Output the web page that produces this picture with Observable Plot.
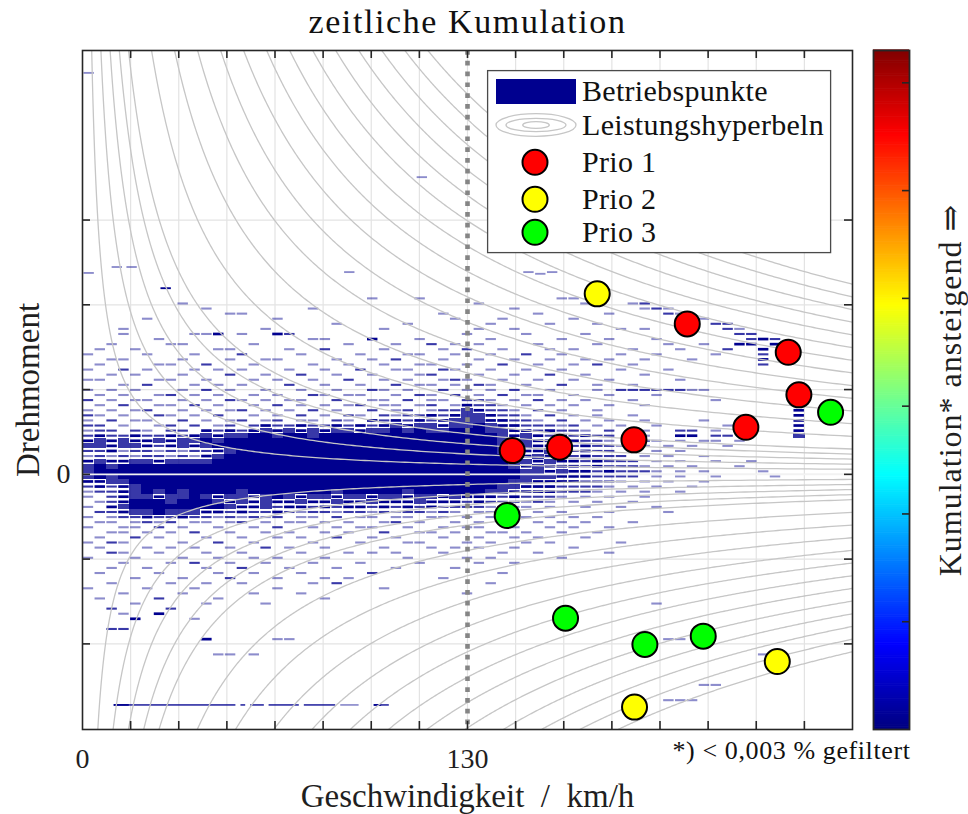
<!DOCTYPE html>
<html lang="de">
<head>
<meta charset="utf-8">
<title>zeitliche Kumulation</title>
<script src="https://cdn.jsdelivr.net/npm/d3@7"></script>
<script src="https://cdn.jsdelivr.net/npm/@observablehq/plot@0.6"></script>
<style>
html,body{margin:0;padding:0;background:#fff;}
#wrap{position:relative;width:968px;height:814px;overflow:hidden;font-family:"Liberation Serif","DejaVu Serif",serif;}
#wrap svg{position:absolute;}
#wrap svg text{font-family:"Liberation Serif","DejaVu Serif",serif;}
</style>
</head>
<body>
<div id="wrap"></div>
<script>
// ---------------- texts ----------------
const titleText = "zeitliche Kumulation";
const xLabel = "Geschwindigkeit  /  km/h";
const yLabel = "Drehmoment";
const captionText = "*) < 0,003 % gefiltert";
const colorbarLabel = "Kumulation* ansteigend \u21D2";
const legendLabels = ["Betriebspunkte", "Leistungshyperbeln", "Prio 1", "Prio 2", "Prio 3"];

// ---------------- axes ----------------
const xDomain = [0, 260];
const yDomain = [-301, 500];
const xTicks = [16.25, 32.5, 48.75, 65, 81.25, 97.5, 113.75, 130, 146.25, 162.5, 178.75, 195, 211.25, 227.5, 243.75];
const yTicks = [-200, -100, 0, 100, 200, 300];
const xTickLabels = [{v: 0, t: "0"}, {v: 130, t: "130"}];
const yTickLabels = [{v: 0, t: "0"}];
const limitSpeed = [130];

// ---------------- power hyperbolas (levels in units of powerUnit) ----------------
const powerUnit = 1555;
const posLevels = [1, 2, 3, 4, 5, 7.5, 10, 12.5, 15, 17.5, 20, 22.5, 25, 27.5, 30, 32.5, 35, 37.5];
const negLevels = [1, 2, 3, 4, 5, 7.5, 10, 12.5, 15, 17.5, 20, 22.5, 25, 27.5, 30, 32.5, 35];

// ---------------- priority points [speed, torque] ----------------
const prio1 = [[145.1, 28], [161.1, 32], [186.2, 40.7], [204.2, 177.5], [238.3, 144], [241.9, 93.8], [224, 55.5]];
const prio2 = [[173.8, 212.9], [234.6, -220.8], [186.4, -274.6]];
const prio3 = [[252.6, 73.2], [143.4, -48.6], [163.1, -169.7], [189.9, -200.7], [209.6, -190.9]];
const prioColors = ["#ff0000", "#ffff00", "#00ff00"];

// ---------------- operating points (binned: 4 km/h x 6 units) ----------------
// each row: [upper torque edge of bin, "column runs : level"], column c covers speed 4c..4c+4
const binW = 4, binH = 6;
const heatRows = [
[210,"24:1,28:1,40:1,41:1"],
[204,"8:1,33:1,42:1,46:1,47:2"],
[198,"10:1,19:1,36:1,47:1,48:2,49:1"],
[192,"12:1,13:1,30:1,38:1,44:1,49:2,50:1"],
[186,"5:1,16:1,31:1,35:1,41:1,51:2,52:1"],
[180,"21:1,27:1,34:1,39:1,43:1,53:2,54:2"],
[174,"3:1,15:1,25:1,33:1,36:1,45:1,47:1,54:2,55:1"],
[168,"3:1,9:1,10:1,11:3,13:1,16:3,17:2,32:1,37:1,42:1,55:2,56:2"],
[162,"6:1,19:1,20:1,24:3,28:1,34:1,40:1,44:1,48:1,56:2,57:3,58:2"],
[156,"2:1,7:1,8:1,14:1,22:1,26:1,29:2,31:1,33:1,38:1,43:1,49:1,52:1,55:3,56:3,58:3"],
[150,"1:1,4:1,11:1,12:1,17:1,20:2,25:1,30:1,32:2,35:1,39:1,41:1,46:1,50:1,54:2,57:3"],
[144,"0:1,5:1,9:1,13:2,18:1,23:1,27:1,28:1,31:1,34:1,37:2,40:1,45:1,48:1,53:1,57:2"],
[138,"2:1,3:1,8:1,12:1,15:1,16:1,21:1,24:1,26:2,30:1,33:1,36:1,39:1,42:1,44:1,47:1,51:1,57:3"],
[132,"1:1,6:1,7:1,10:2,14:1,19:1,22:1,25:1,28:1,29:1,32:1,35:2,38:1,41:1,43:2,46:1,57:2"],
[126,"0:1,3:2,5:1,9:1,11:1,13:1,17:1,20:1,23:2,26:1,27:1,30:2,31:1,34:1,37:1,40:1,45:1,49:1"],
[120,"2:1,4:1,8:1,12:2,15:1,18:2,21:1,24:1,28:1,29:2,33:1,36:1,39:2,42:1,47:1"],
[114,"0:1,1:1,6:1,7:1,10:1,14:1,16:1,19:1,22:2,25:1,27:1,30:1,31:2,32:1,35:1,38:1,41:1,44:1,50:1"],
[108,"3:1,5:2,9:1,11:1,13:1,17:2,20:1,23:1,26:2,28:1,29:1,31:1,33:2,34:1,37:1,40:2,43:1,46:1"],
[102,"0:1,2:1,4:1,8:1,10:2,12:1,15:1,18:1,21:1,24:2,25:1,27:1,30:2,32:1,34:1,36:2,39:1,43:1,45-50:2,51:1,52:1"],
[96,"1:1,3:1,6:1,7:2,9:1,11:1,14:1,16:1,19:2,20:1,22:1,23:1,26:1,28:2,29:1,31:2,33:1,35:2,37:1,38:1,41:1,44:1,48:1"],
[90,"0:2,2:1,4:1,5:1,8:1,10:1,12:2,13:1,15:1,17:1,18:1,21:2,24:1,25:1,27:2,29:1,30:1,32:2,33:2,34:1,36:1,38:2,40:1,42:1,46:1,53:1"],
[84,"1:1,3:2,6:1,7:1,9:2,11:1,14:1,16:2,18:1,20:1,22:1,23:2,25:1,26:1,28:1,29:2,31:1,32:3,33:2,34:2,35:1,37:1,39:1,41:1,44:1,47:1"],
[78,"0:1,2:1,4:1,5:2,8:1,10:1,12:1,13:2,15:1,17:1,19:2,21:1,24:2,26:1,27:2,29:1,30:2,31:2,32:4,33:3,34:2,35:2,36:1,38:2,40:1,43:1,60:3"],
[72,"0:2,1:1,3:1,6:2,7:1,9:1,11:2,14:1,16:1,18:2,20:1,22:2,23:1,25:2,26:1,27:2,28:2,29:3,30:2,31:3,32:4,33:4,34:3,35:2,36:2,37:1,39:2,41:1,43:1,46:1,60:3"],
[66,"0:1,2:2,4:1,5:1,8:2,10:1,12:1,13:2,15:1,16:2,18:1,19:1,21:2,22:1,24:3,25:2,26:3,27:2,28:3,29:2,30:3,31:4,32:4,33:4,34:3,35:3,36:2,37:2,38:1,40:2,42:1,44:1,47:1,52:1,60:3"],
[60,"0:2,1:2,3:1,6:1,7:2,9:2,11:1,12:2,14:2,15:3,16:2,17:2,18:3,19:2,20:2,21:3,22:2,23:3,24:2,25:3,26:4,27:3,28:4,29:4,30:3,31:4,32:4,33:5,34:4,35:3,36:3,37:2,38:2,39:2,40:1,41:2,43:1,45:1,48:1,54:1,60:3"],
[54,"0:1,1:2,2:2,4:2,5:1,7:2,8:2,10:3,11:2,12:3,13:2,14:3,15:4,16:3,17:4,18:3,19:4,20:3,21:4,22:4,23:3,24:4,25:4,26:5,27:4,28:5,29:4,30:4,31:5,32:5,33:5,34:4,35:4,36:3,37:3,38:2,39:3,40:2,41:2,42:1,44:2,47:1,50:2,51:2,53:1,60:3"],
[48,"0:2,1:3,2:2,3:2,4:3,5:2,6:2,7:3,8:2,9:3,10:4,11:3,12:4,13:4,14-15:5,16:4,17-18:5,19:4,20-34:5,35:4,36:3,37:4,38:3,39:2,40:3,41:2,42:3,43:2,44:2,47:1,50:3,51:3,53:2,54:2,60:4"],
[42,"0:3,1:4,2:3,3:4,4:3,5:3,6:4,7:3,8:4,9:4,10:5,11:4,12-34:5,35:4,36:3,37:4,38:3,39:3,40:2,41:3,42:2,43:2,44:1,47:2,48:1,50:1,52:1,53:1,55:1"],
[36,"0:4,1:4,2:3,3:4,4:4,5:3,6:2,7:3,8:4,9:3,10:4,11-34:5,35:4,36:3,37:4,38:3,39:3,40:3,41:2,42:3,43:2,44:2,45:1,47:1,49:1,51:1,54:1"],
[30,"0:2,1:2,2:3,3:1,4:2,5:2,6:1,7:2,8:1,9:2,10:2,11:3,12:4,13-34:5,35:4,36:4,37:3,38:3,39:4,40:3,41:2,42:3,43:2,44:2,46:1,48:1,50:1"],
[24,"0:1,1:2,2:1,3:2,4:1,5:2,6:2,7:1,8:2,9:1,10:3,11:4,12-35:5,36:4,37:3,38:4,39:3,40:3,41:2,42:3,43:2,44:2,45:2,47:1,49:1,52:1"],
[18,"0:3,1:4,2:3,3:3,4:4,5:4,6:3,7:4,8:4,9:4,10:4,11-35:5,36:4,37:4,38:3,39:4,40:3,41:3,42:2,43:3,44:2,45:2,46:2,48:1,50:1,53:1,56:1"],
[12,"0:4,1:5,2:4,3-35:5,36:4,37:3,38:4,39:3,40:3,41:3,42:2,43:3,44:2,45:2,46:2,47:1,49:1,51:1,55:1"],
[6,"0:4,1-36:5,37:4,38:4,39:3,40:4,41:3,42:3,43:2,44:3,45:2,46:2,47:2,48:1,50:1,52:1,57:1"],
[0,"0:4,1:5,2:4,3-36:5,37:4,38:4,39:4,40:3,41:3,42:3,43:2,44:2,45:2,46:2,48:1,50:1,53:1,58:1"],
[-6,"0:3,1:3,2:4,3:4,4-35:5,36:4,37:4,38:3,39:3,40:3,41:3,42:2,43:2,44:2,45:1,47:1,49:1,52:1"],
[-12,"0:2,1:3,2:2,3:3,4:4,5-34:5,35:4,36:4,37:3,38:3,39:3,40:2,41:2,42:2,43:2,44:1,46:1,48:1,51:1"],
[-18,"0:1,1:2,2:2,3:3,4:4,5:5,6:4,7:5,8:4,9-12:5,13:4,14-20:5,21:4,22-26:5,27:4,28-33:5,34:4,35:4,36:3,37:3,38:3,39:3,40:2,41:2,42:2,43:1,45:1,47:1,50:1"],
[-24,"0:1,2:2,3:3,4:4,5:4,6:3,7:4,8:4,9:5,10:4,11:3,12:4,13:4,14:3,15:4,16:5,17:4,18:3,19:4,20:4,21:3,22:4,23:4,24:3,25:4,26:4,27:3,28:4,29:4,30:3,31:4,32:3,33:3,34:3,35:2,36:3,37:2,38:2,39:2,40:1,42:1,44:1,47:1"],
[-30,"1:1,2:2,3:3,4-6:5,7:4,8-10:5,11:4,12:3,13:4,14:3,15:4,16:3,17:3,18:4,19:3,20:3,21:4,22:3,23:3,24:4,25:3,26:3,27:3,28:4,29:3,30:3,31:3,32:2,33:3,34:2,35:2,36:2,37:1,38:2,39:1,41:1,43:1,46:1"],
[-36,"0:1,2:3,3:4,4-11:5,12:4,13:3,14:3,15:4,16:2,17:3,18:3,19:2,20:3,21:2,22:3,23:3,24:2,25:3,26:2,27:3,28:2,29:3,30:2,31:2,32:2,33:2,34:1,35:2,36:1,37:1,39:1,42:1,45:1,48:1"],
[-42,"1:2,2:2,3:3,4:4,5:4,6:5,7:4,8:4,9:4,10:3,11:3,12:2,13:3,14:2,15:2,16:3,17:2,18:1,19:2,20:2,21:1,22:2,23:2,24:1,25:2,26:1,27:2,28:2,29:1,30:2,31:1,33:1,34:1,36:1,38:1,40:1,44:1,49:1"],
[-48,"0:1,2:1,3:2,4:2,5:3,6:2,7:2,8:3,9:2,10:2,11:1,12:2,13:1,14:2,15:1,16:2,18:1,19:1,21:2,23:1,24:1,26:1,27:1,29:1,30:1,32:1,34:1,37:1,39:1,41:1,43:1"],
[-54,"1:1,2:1,4:1,5:2,6:1,7:2,9:1,10:1,12:1,13:2,15:1,17:1,18:1,20:1,22:1,25:1,26:2,28:1,31:1,33:1,35:1,38:1,40:1,42:1,46:1"],
[-60,"0:1,3:1,4:1,6:2,8:1,11:1,14:1,16:2,19:1,21:1,23:1,24:1,27:1,30:1,32:1,33:1,36:1,39:1,41:1,44:1"],
[-66,"2:1,3:1,5:1,7:1,9:2,12:1,15:1,17:1,20:1,22:1,25:2,28:1,29:1,31:1,34:1,35:1,37:1,40:1,43:1"],
[-72,"1:1,4:2,6:1,10:1,13:1,16:1,18:1,21:2,24:1,26:1,30:1,33:1,36:1,38:1,42:1"],
[-78,"0:1,2:2,3:1,8:1,11:2,14:1,19:1,23:1,27:1,28:1,32:1,34:1,37:1,39:1,45:1"],
[-84,"1:1,5:1,7:1,9:1,12:1,15:2,17:1,20:1,25:1,29:1,31:1,33:1,36:1,41:1"],
[-90,"2:2,3:1,6:1,10:1,13:1,18:1,22:1,24:1,26:1,30:1,35:1,38:1,44:1"],
[-96,"0:1,4:1,8:1,11:1,14:1,16:1,20:1,27:1,32:1,34:1,40:1"],
[-102,"3:1,7:1,9:2,12:1,15:1,19:1,23:1,28:1,33:1,36:1"],
[-108,"2:1,5:1,10:1,13:2,17:1,21:1,26:1,31:1"],
[-114,"1:1,6:1,11:1,14:1,18:1,24:2,35:1"],
[-120,"4:1,8:1,12:2,16:1,20:1,22:1,30:1"],
[-126,"2:1,7:1,10:1,13:1,19:1,21:2,34:1"],
[-132,"0:1,5:1,9:1,16:1,25:1"],
[-138,"3:1,8:1,14:1,18:1,32:1"],
[-144,"1:1,6:2,11:1,20:1"],
[-150,"4:1,10:1,15:1,48:1"],
[-156,"2:2,7:2"],
[-162,"3:1,6:3"],
[-168,"4:3,9:1"],
[-180,"2:2,3:2"],
[-192,"10:3,16:1,17:1,49:1,50:1"],
[-210,"11:1,12:1,14:1,57:1"],
[-246,"52:1,53:1"],
[-264,"49:1,50:1,51:1"]
];
// isolated dashes outside the binned rows: [speed, torque, level]
const extraDashes = [[0.5, 473, 1], [113, 350, 1], [10, 244, 1], [15, 244, 1], [88.5, 238, 1], [0.5, 237, 1], [26.5, 219, 3], [149, 238, 1], [153, 236, 1], [157, 238, 1]];
// long thin trace at the bottom: torque value and [speed from, speed to, level]
const bottomTraceY = -272.6;
const bottomTrace = [[10.7, 51.8, 2], [10.7, 15.8, 3], [53.5, 55.1, 2], [56.8, 61.4, 2], [63, 73.2, 2], [74.9, 85.5, 2], [87.2, 93.4, 1], [98.5, 103.6, 2], [98.5, 101, 3]];

// ---------------- colour bar ----------------
const cbDomain = [0, 6.3];
const cbTicks = [1, 2, 3, 4, 5, 6];
const jetStops = [0, 0.125, 0.375, 0.625, 0.875, 1];
const jetColors = ["#000080", "#0000ff", "#00ffff", "#ffff00", "#ff0000", "#800000"];

// =====================================================================
const FONT = '"Liberation Serif", "DejaVu Serif", serif';
const navy = "#00008f";
const textCol = "#1f1f1f";
const levelOpacity = {1: 0.45, 2: 0.78, 3: 1, 4: 0.78, 5: 1};

const cells = [];
for (const [yTop, runs] of heatRows) {
  for (const part of runs.split(",")) {
    const [range, lev] = part.split(":");
    const ab = range.split("-").map(Number);
    const a = ab[0], b = ab.length > 1 ? ab[1] : ab[0];
    for (let c = a; c <= b; c++) cells.push({x: c * binW, y: yTop, L: +lev});
  }
}
const rectOpts = (extra) => Object.assign({
  x1: d => d.x, x2: d => d.x + binW, y1: d => d.y - binH, y2: d => d.y, fill: navy
}, extra);

const curves = [];
posLevels.forEach((L, i) => {
  const P = L * powerUnit, x0 = P / yDomain[1];
  for (let k = 0; k <= 300; k++) { const x = x0 * Math.pow(xDomain[1] / x0, k / 300); curves.push({id: "p" + i, x, y: P / x}); }
});
negLevels.forEach((L, i) => {
  const P = L * powerUnit, x0 = P / -yDomain[0];
  for (let k = 0; k <= 300; k++) { const x = x0 * Math.pow(xDomain[1] / x0, k / 300); curves.push({id: "n" + i, x, y: -P / x}); }
});

const markers = [];
[prio1, prio2, prio3].forEach((arr, i) => arr.forEach(([x, y]) => markers.push({x, y, color: prioColors[i]})));

const txt = (extra) => Object.assign({fontFamily: FONT, lineAnchor: "middle", fill: textCol}, extra);

const main = Plot.plot({
  width: 968, height: 814,
  marginLeft: 82, marginRight: 116, marginTop: 50, marginBottom: 85,
  x: {domain: xDomain, axis: null},
  y: {domain: yDomain, axis: null},
  color: {type: "identity"},
  style: {fontFamily: FONT, background: "transparent", overflow: "visible", color: textCol},
  marks: [
    Plot.ruleX(xTicks, {stroke: "#e3e3e3", strokeWidth: 1.2}),
    Plot.ruleY(yTicks, {stroke: "#e3e3e3", strokeWidth: 1.2}),
    Plot.rect(cells.filter(d => d.L === 5), rectOpts({shapeRendering: "crispEdges"})),
    Plot.rect(cells.filter(d => d.L === 4), rectOpts({fillOpacity: levelOpacity[4], shapeRendering: "crispEdges"})),
    Plot.rect(cells.filter(d => d.L === 3), rectOpts({insetTop: 1.2, insetBottom: 1.2, insetLeft: 0.7, insetRight: 0.7})),
    Plot.rect(cells.filter(d => d.L === 2), rectOpts({fillOpacity: levelOpacity[2], insetTop: 1.5, insetBottom: 1.5, insetLeft: 0.7, insetRight: 0.7})),
    Plot.rect(cells.filter(d => d.L === 1), rectOpts({fillOpacity: levelOpacity[1], insetTop: 1.5, insetBottom: 1.5, insetLeft: 0.7, insetRight: 0.7})),
    Plot.rect(extraDashes, {x1: d => d[0], x2: d => d[0] + 3.5, y1: d => d[1] - 1.1, y2: d => d[1] + 1.1, fill: navy, fillOpacity: d => levelOpacity[d[2]]}),
    Plot.rect(bottomTrace, {x1: d => d[0], x2: d => d[1], y1: bottomTraceY - 1, y2: bottomTraceY + 1, fill: navy, fillOpacity: d => levelOpacity[d[2]]}),
    Plot.ruleY([0], {stroke: "#f2f2f2", strokeWidth: 1.6}),
    Plot.line(curves, {x: "x", y: "y", z: "id", stroke: "#c6c6c6", strokeWidth: 1.3, clip: true}),
    Plot.ruleX(limitSpeed, {stroke: "#858585", strokeWidth: 4.6, strokeDasharray: "4.7,6.1"}),
    Plot.dot(markers, {x: "x", y: "y", r: 12.5, fill: "color", stroke: "#000", strokeWidth: 2}),
    Plot.frame({stroke: "#262626", strokeWidth: 1.6}),
    Plot.tickX(xTicks, {x: d => d, insetBottom: 671, stroke: "#262626", strokeWidth: 1.6}),
    Plot.tickX(xTicks, {x: d => d, insetTop: 671, stroke: "#262626", strokeWidth: 1.6}),
    Plot.tickY(yTicks, {y: d => d, insetRight: 762, stroke: "#262626", strokeWidth: 1.6}),
    Plot.tickY(yTicks, {y: d => d, insetLeft: 762, stroke: "#262626", strokeWidth: 1.6}),
    Plot.text(xTickLabels, txt({x: "v", text: "t", frameAnchor: "bottom", dy: 30, textAnchor: "middle", fontSize: 28})),
    Plot.text(yTickLabels, txt({y: "v", text: "t", frameAnchor: "left", dx: -12, textAnchor: "end", fontSize: 28})),
    Plot.text([titleText], txt({text: d => d, frameAnchor: "top", dy: -28, textAnchor: "middle", fontSize: 34, fill: "#111"})),
    Plot.text([xLabel], txt({text: d => d, frameAnchor: "bottom", dy: 67, textAnchor: "middle", fontSize: 33})),
    Plot.text([yLabel], txt({text: d => d, frameAnchor: "left", dx: -54, rotate: -90, textAnchor: "middle", fontSize: 33})),
    Plot.text([captionText], txt({text: d => d, frameAnchor: "bottom-right", dx: 58, dy: 21, textAnchor: "end", fontSize: 26, fill: "#111"})),
    Plot.text([colorbarLabel], txt({text: d => d, frameAnchor: "right", dx: 98, rotate: -90, textAnchor: "middle", fontSize: 32}))
  ]
});
main.style.left = "0px"; main.style.top = "0px";
const spacing = new Map([[titleText, "1.6px"], [captionText, "0.6px"], [colorbarLabel, "1px"]]);
d3.select(main).selectAll("text").each(function () {
  const s = spacing.get(this.textContent);
  if (s) d3.select(this).style("letter-spacing", s);
});
document.getElementById("wrap").appendChild(main);

// ---------------- colour bar ----------------
const cbStep = 0.02;
const cbVals = d3.range(cbDomain[0], cbDomain[1], cbStep);
const cb = Plot.plot({
  width: 36, height: 679, margin: 0,
  x: {domain: [0, 1], axis: null},
  y: {domain: cbDomain, axis: null},
  color: {type: "linear", domain: jetStops.map(t => t * cbDomain[1]), range: jetColors},
  style: {background: "transparent", overflow: "visible"},
  marks: [
    Plot.rect(cbVals, {x1: 0, x2: 1, y1: d => d, y2: d => d + cbStep * 1.3, fill: d => d + cbStep / 2}),
    Plot.tickY(cbTicks, {y: d => d, insetLeft: 29, stroke: "#262626", strokeWidth: 1.6}),
    Plot.frame({stroke: "#262626", strokeWidth: 1.8})
  ]
});
cb.style.left = "873px"; cb.style.top = "50px";
document.getElementById("wrap").appendChild(cb);

// ---------------- legend ----------------
const lg = d3.create("svg").attr("width", 346).attr("height", 186)
  .style("left", "487px").style("top", "70px").style("overflow", "visible");
lg.append("rect").attr("x", 0.6).attr("y", 0.6).attr("width", 343).attr("height", 182)
  .attr("fill", "#fff").attr("stroke", "#4a4a4a").attr("stroke-width", 1.3);
const rowY = [21, 55, 91.5, 128.5, 161.5];
lg.append("rect").attr("x", 9).attr("y", 9).attr("width", 80).attr("height", 25).attr("fill", navy);
[[40, 11.3], [30, 6.7], [13.3, 3.4]].forEach(([rx, ry]) =>
  lg.append("ellipse").attr("cx", 49).attr("cy", rowY[1]).attr("rx", rx).attr("ry", ry)
    .attr("fill", "none").attr("stroke", "#c6c6c6").attr("stroke-width", 1.3));
prioColors.forEach((c, i) =>
  lg.append("circle").attr("cx", 48).attr("cy", rowY[2 + i] + 0.8).attr("r", 12.5)
    .attr("fill", c).attr("stroke", "#000").attr("stroke-width", 2));
legendLabels.forEach((t, i) =>
  lg.append("text").attr("x", 95).attr("y", rowY[i] + 10.2).text(t)
    .style("font-family", FONT).style("font-size", "30px").style("letter-spacing", "0.3px").attr("fill", "#111"));
document.getElementById("wrap").appendChild(lg.node());
</script>
</body>
</html>
